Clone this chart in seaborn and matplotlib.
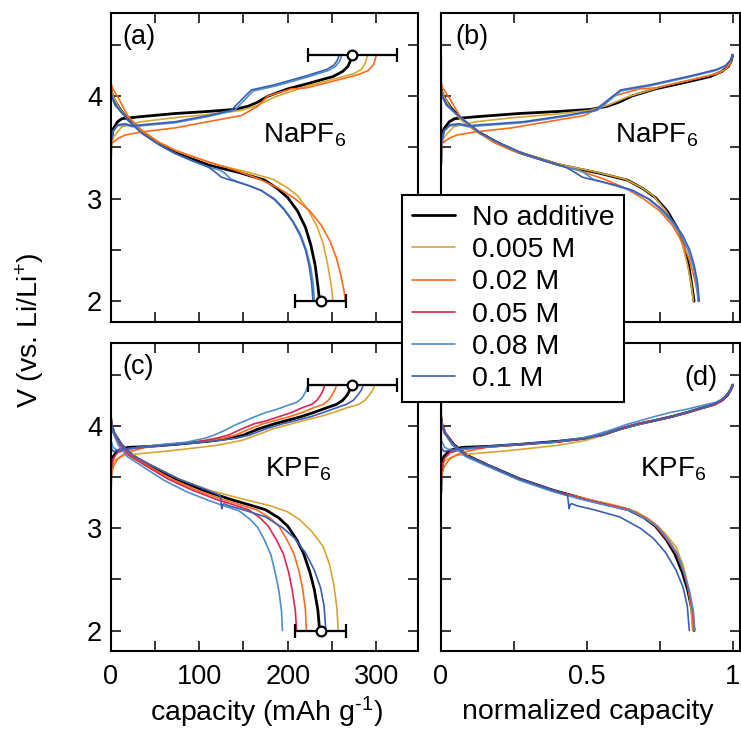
import matplotlib
matplotlib.use("Agg")
import matplotlib.pyplot as plt
from matplotlib.lines import Line2D
from matplotlib.ticker import MultipleLocator
import pandas as pd
import seaborn as sns

sns.set_theme(style="ticks")
plt.rcParams["font.family"] = ["Liberation Sans", "DejaVu Sans"]
plt.rcParams["mathtext.fontset"] = "custom"
plt.rcParams["mathtext.rm"] = "Liberation Sans"
plt.rcParams["mathtext.it"] = "Liberation Sans:italic"
plt.rcParams["mathtext.bf"] = "Liberation Sans:bold"
for key in ("text.color", "axes.labelcolor", "xtick.color", "ytick.color", "axes.edgecolor"):
    plt.rcParams[key] = "black"

# ---------------------------------------------------------------- series
labels = ["No additive", "0.005 M", "0.02 M", "0.05 M", "0.08 M", "0.1 M"]
colors = ["#000000", "#d8a531", "#ff6a1c", "#de2450", "#4f8dcd", "#3b5fb6"]
widths = [2.0, 1.2, 1.2, 1.2, 1.2, 1.2]

# ---------------------------------------------------------------- NaPF6 (mAh/g, V)
na_none_chg_q = [0, 0, 0.5, 3, 8, 13, 35, 73, 110, 140, 155, 166, 178, 200, 222, 251, 262, 268, 270.5, 272]
na_none_chg_v = [4.38, 3.33, 3.55, 3.68, 3.75, 3.78, 3.80, 3.83, 3.85, 3.87, 3.90, 3.94, 4.00, 4.07, 4.12, 4.19, 4.24, 4.29, 4.34, 4.40]
na_none_dis_q = [0, 1, 4, 10, 20, 35, 54, 73, 110, 147, 174, 188, 200, 211, 220, 226, 231, 234, 236]
na_none_dis_v = [4.10, 4.04, 3.97, 3.88, 3.77, 3.65, 3.54, 3.45, 3.33, 3.25, 3.18, 3.10, 3.01, 2.88, 2.72, 2.55, 2.35, 2.15, 2.00]

na_005_chg_q = [0, 1, 3.4, 12.7, 35, 73, 110, 147.5, 166, 185, 222, 258, 275, 283, 287.5, 290]
na_005_chg_v = [3.45, 3.52, 3.60, 3.70, 3.75, 3.79, 3.82, 3.86, 3.91, 3.99, 4.10, 4.18, 4.22, 4.26, 4.32, 4.40]
na_005_dis_q = [0, 1, 4, 10, 20, 35, 55, 76, 115, 154, 183, 199, 211, 223, 233, 240, 245, 249, 251]
na_005_dis_v = [4.10, 4.05, 3.98, 3.88, 3.77, 3.66, 3.55, 3.46, 3.34, 3.26, 3.19, 3.11, 3.03, 2.89, 2.73, 2.56, 2.36, 2.16, 2.00]

na_02_chg_q = [0, 1.5, 9, 16.5, 35, 73, 110, 147.5, 166, 177.5, 204, 221, 258, 280, 291, 297, 300]
na_02_chg_v = [3.50, 3.54, 3.59, 3.62, 3.65, 3.69, 3.75, 3.81, 3.90, 4.00, 4.07, 4.08, 4.16, 4.21, 4.25, 4.31, 4.40]
na_02_dis_q = [0, 2, 9, 20, 35, 54, 73, 110, 140, 168, 190, 208, 225, 238, 248, 255, 260, 263.5, 265]
na_02_dis_v = [4.15, 4.08, 3.98, 3.80, 3.67, 3.55, 3.47, 3.36, 3.28, 3.19, 3.10, 3.00, 2.88, 2.74, 2.58, 2.42, 2.25, 2.10, 2.00]

na_08_chg_q = [0, 1, 3, 8, 16.5, 25, 35, 73, 110, 140, 150, 161, 187, 224, 246, 254, 258.5, 261]
na_08_chg_v = [3.48, 3.58, 3.66, 3.71, 3.72, 3.70, 3.71, 3.74, 3.80, 3.86, 3.95, 4.05, 4.10, 4.19, 4.25, 4.29, 4.34, 4.40]
na_08_dis_q = [0, 1, 5, 16.5, 35, 54, 73, 92, 110, 118, 123, 127, 131, 136, 142, 155, 170, 185, 196, 206, 214, 221, 226, 229, 230]
na_08_dis_v = [4.08, 4.00, 3.91, 3.80, 3.64, 3.53, 3.44, 3.37, 3.31, 3.29, 3.28, 3.26, 3.23, 3.19, 3.17, 3.13, 3.08, 3.00, 2.90, 2.78, 2.66, 2.50, 2.33, 2.15, 2.00]

na_1_chg_q = [0, 1, 3, 8, 16.5, 25, 35, 73, 110, 136, 147.5, 159, 185, 222, 244, 252, 256, 258]
na_1_chg_v = [3.45, 3.57, 3.66, 3.72, 3.73, 3.71, 3.72, 3.75, 3.81, 3.86, 3.96, 4.06, 4.11, 4.20, 4.26, 4.30, 4.35, 4.40]
na_1_dis_q = [0, 1, 5, 16.5, 35, 54, 73, 92, 110, 118, 125, 132, 140, 155, 170, 185, 196, 206, 214, 220, 224, 227, 228.5]
na_1_dis_v = [4.10, 4.02, 3.92, 3.80, 3.64, 3.53, 3.44, 3.37, 3.31, 3.26, 3.21, 3.19, 3.17, 3.13, 3.08, 2.99, 2.89, 2.77, 2.64, 2.50, 2.35, 2.18, 2.00]

# ---------------------------------------------------------------- KPF6 (mAh/g, V)
k_none_chg_q = [0, 0, 0.5, 3, 8, 20, 45, 74, 110, 136, 150, 167, 185, 198, 215, 229, 245, 255, 262, 267, 270, 272]
k_none_chg_v = [4.38, 3.33, 3.55, 3.70, 3.76, 3.79, 3.80, 3.82, 3.85, 3.88, 3.91, 3.97, 4.02, 4.05, 4.09, 4.13, 4.18, 4.21, 4.25, 4.30, 4.35, 4.40]
k_none_dis_q = [0, 1, 4, 12, 25, 43, 74, 105, 136, 160, 175, 190, 200, 210, 218, 225, 230, 234, 236]
k_none_dis_v = [4.10, 4.02, 3.93, 3.82, 3.71, 3.62, 3.48, 3.37, 3.28, 3.22, 3.18, 3.10, 3.02, 2.89, 2.75, 2.57, 2.40, 2.20, 2.00]

k_005_chg_q = [0, 1, 4, 15, 35, 60, 81, 120, 149, 165, 183, 200, 217, 236, 251, 268, 280, 287, 292, 296, 298]
k_005_chg_v = [3.55, 3.60, 3.66, 3.71, 3.73, 3.75, 3.77, 3.81, 3.86, 3.91, 3.97, 4.01, 4.05, 4.09, 4.13, 4.18, 4.21, 4.25, 4.30, 4.35, 4.40]
k_005_dis_q = [0, 1, 4, 12, 25, 45, 78, 112, 147, 180, 200, 214, 228, 240, 247, 252, 255.5, 257]
k_005_dis_v = [4.10, 4.02, 3.93, 3.82, 3.71, 3.62, 3.48, 3.37, 3.29, 3.22, 3.16, 3.08, 2.96, 2.82, 2.65, 2.45, 2.22, 2.00]

k_02_chg_q = [0, 1, 3, 8, 18, 40, 70, 100, 128, 141, 157, 172, 185, 202, 216, 230, 240, 246, 250, 253, 255.4]
k_02_chg_v = [3.45, 3.52, 3.60, 3.68, 3.74, 3.79, 3.82, 3.84, 3.88, 3.91, 3.97, 4.02, 4.05, 4.09, 4.13, 4.18, 4.21, 4.25, 4.30, 4.35, 4.40]
k_02_dis_q = [0, 1, 4, 11, 23, 40, 69, 98, 127, 150, 165, 180, 190, 199, 207, 213, 217, 220, 221]
k_02_dis_v = [4.12, 4.03, 3.93, 3.82, 3.71, 3.62, 3.48, 3.37, 3.28, 3.22, 3.18, 3.10, 3.02, 2.89, 2.75, 2.57, 2.40, 2.20, 2.00]

k_05_chg_q = [0, 1, 3, 8, 18, 36, 66, 95, 120, 133, 148, 162, 176, 190, 204, 217, 227, 233, 237, 240, 241.6]
k_05_chg_v = [3.52, 3.60, 3.68, 3.74, 3.77, 3.79, 3.82, 3.84, 3.88, 3.91, 3.97, 4.02, 4.05, 4.09, 4.13, 4.18, 4.21, 4.25, 4.30, 4.35, 4.40]
k_05_dis_q = [0, 1, 4, 10, 21, 38, 65, 93, 120, 142, 156, 169, 178, 187, 195, 201, 205, 208.5, 210]
k_05_dis_v = [4.10, 4.02, 3.93, 3.82, 3.71, 3.62, 3.48, 3.37, 3.28, 3.22, 3.18, 3.10, 3.02, 2.89, 2.75, 2.57, 2.40, 2.20, 2.00]

k_08_chg_q = [0, 0.5, 3, 8, 16, 30, 60, 85, 107, 117, 130, 141, 152, 163, 175, 187, 200, 210, 216, 220, 223]
k_08_chg_v = [3.92, 3.86, 3.79, 3.76, 3.77, 3.79, 3.82, 3.84, 3.88, 3.91, 3.96, 4.01, 4.05, 4.09, 4.13, 4.16, 4.20, 4.23, 4.27, 4.33, 4.40]
k_08_dis_q = [0, 1, 4, 9, 19, 35, 60, 85, 111, 131, 145, 157, 166, 174, 181, 186, 190, 193, 194]
k_08_dis_v = [4.08, 4.00, 3.91, 3.81, 3.70, 3.61, 3.47, 3.36, 3.27, 3.21, 3.17, 3.09, 3.01, 2.88, 2.74, 2.56, 2.39, 2.19, 2.00]

k_1_chg_q = [0, 0.5, 3, 8, 20, 45, 77, 115, 142, 157, 175, 194, 208, 226, 240, 256, 266, 274, 279, 283, 285.4]
k_1_chg_v = [3.84, 3.79, 3.75, 3.76, 3.78, 3.80, 3.82, 3.85, 3.88, 3.91, 3.97, 4.02, 4.05, 4.09, 4.13, 4.18, 4.21, 4.25, 4.30, 4.35, 4.40]
k_1_dis_q = [0, 1, 4, 12, 25, 45, 77, 110, 124, 125.5, 126.5, 128, 133, 150, 175, 195, 208, 220, 230, 237, 241, 243]
k_1_dis_v = [4.10, 4.02, 3.93, 3.82, 3.71, 3.62, 3.48, 3.37, 3.32, 3.19, 3.23, 3.24, 3.22, 3.18, 3.11, 3.00, 2.90, 2.76, 2.59, 2.42, 2.24, 2.00]

# mean end-of-charge / end-of-discharge capacity with spread (mAh/g)
charge_mean, charge_spread, charge_voltage = 273, 50.5, 4.40
discharge_mean, discharge_spread, discharge_voltage = 237, 29, 2.00

curves = [
    ("Na", "No additive", na_none_chg_q, na_none_chg_v, na_none_dis_q, na_none_dis_v),
    ("Na", "0.005 M", na_005_chg_q, na_005_chg_v, na_005_dis_q, na_005_dis_v),
    ("Na", "0.02 M", na_02_chg_q, na_02_chg_v, na_02_dis_q, na_02_dis_v),
    ("Na", "0.08 M", na_08_chg_q, na_08_chg_v, na_08_dis_q, na_08_dis_v),
    ("Na", "0.1 M", na_1_chg_q, na_1_chg_v, na_1_dis_q, na_1_dis_v),
    ("K", "No additive", k_none_chg_q, k_none_chg_v, k_none_dis_q, k_none_dis_v),
    ("K", "0.005 M", k_005_chg_q, k_005_chg_v, k_005_dis_q, k_005_dis_v),
    ("K", "0.02 M", k_02_chg_q, k_02_chg_v, k_02_dis_q, k_02_dis_v),
    ("K", "0.05 M", k_05_chg_q, k_05_chg_v, k_05_dis_q, k_05_dis_v),
    ("K", "0.08 M", k_08_chg_q, k_08_chg_v, k_08_dis_q, k_08_dis_v),
    ("K", "0.1 M", k_1_chg_q, k_1_chg_v, k_1_dis_q, k_1_dis_v),
]

frames = []
for salt, label, cq, cv, dq, dv in curves:
    full_charge = max(cq)
    for step, q, v in (("charge", cq, cv), ("discharge", dq, dv)):
        f = pd.DataFrame({"capacity": q, "voltage": v})
        f["normalized"] = f["capacity"] / full_charge
        f["salt"], f["label"], f["step"] = salt, label, step
        frames.append(f)
data = pd.concat(frames, ignore_index=True)

# ---------------------------------------------------------------- figure
W, H = 741, 732
fig = plt.figure(figsize=(W / 100, H / 100), dpi=100)


def box(x0, y0, x1, y1):
    return [x0 / W, 1 - y1 / H, (x1 - x0) / W, (y1 - y0) / H]


ax_a = fig.add_axes(box(110.5, 13, 418, 321.7))
ax_b = fig.add_axes(box(440.7, 13, 740, 321.7))
ax_c = fig.add_axes(box(110.5, 343, 418, 651))
ax_d = fig.add_axes(box(440.7, 343, 740, 651))

panels = [
    (ax_a, "Na", "capacity"),
    (ax_b, "Na", "normalized"),
    (ax_c, "K", "capacity"),
    (ax_d, "K", "normalized"),
]

for ax, salt, xcol in panels:
    sub = data[data["salt"] == salt]
    for label, color, lw in zip(labels, colors, widths):
        part = sub[sub["label"] == label]
        if part.empty:
            continue
        sns.lineplot(data=part, x=xcol, y="voltage", units="step", estimator=None,
                     sort=False, color=color, linewidth=lw, ax=ax, legend=False)

    ax.set_ylim(1.8, 4.81)
    ax.yaxis.set_major_locator(MultipleLocator(1))
    ax.yaxis.set_minor_locator(MultipleLocator(0.5))
    if xcol == "capacity":
        ax.set_xlim(0, 347)
        ax.xaxis.set_major_locator(MultipleLocator(100))
        ax.xaxis.set_minor_locator(MultipleLocator(50))
        for xm, xe, ym in ((charge_mean, charge_spread, charge_voltage),
                           (discharge_mean, discharge_spread, discharge_voltage)):
            ax.errorbar([xm], [ym], xerr=[xe], fmt="o", ms=7, mfc="white", mec="black",
                        mew=1.6, ecolor="black", elinewidth=1.6, capsize=5, capthick=1.6,
                        zorder=6, clip_on=False)
    else:
        ax.set_xlim(0, 1.025)
        ax.xaxis.set_major_locator(MultipleLocator(0.5))
        ax.xaxis.set_minor_locator(MultipleLocator(0.25))
        ax.xaxis.set_major_formatter(plt.FuncFormatter(lambda v, p: f"{v:g}"))

    ax.set_xlabel("")
    ax.set_ylabel("")
    ax.tick_params(which="both", direction="in", top=True, right=True, length=7,
                   width=1.1, color="black", labelcolor="black", labelsize=19.5, pad=6)
    for sp in ax.spines.values():
        sp.set_linewidth(1.5)
        sp.set_color("black")
    ax.set_facecolor("white")

for ax in (ax_a, ax_b):
    ax.tick_params(labelbottom=False)
for ax in (ax_b, ax_d):
    ax.tick_params(labelleft=False)
for ax in (ax_c, ax_d):
    ax.tick_params(axis="x", pad=9)

# panel tags and salt names
ax_a.text(0.04, 0.965, "(a)", transform=ax_a.transAxes, ha="left", va="top", fontsize=19.5)
ax_b.text(0.048, 0.965, "(b)", transform=ax_b.transAxes, ha="left", va="top", fontsize=19.5)
ax_c.text(0.04, 0.965, "(c)", transform=ax_c.transAxes, ha="left", va="top", fontsize=19.5)
ax_d.text(0.925, 0.93, "(d)", transform=ax_d.transAxes, ha="right", va="top", fontsize=19.5)
ax_a.text(0.496, 0.579, r"NaPF$_6$", transform=ax_a.transAxes, ha="left", va="baseline", fontsize=20)
ax_b.text(0.583, 0.579, r"NaPF$_6$", transform=ax_b.transAxes, ha="left", va="baseline", fontsize=20)
ax_c.text(0.502, 0.566, r"KPF$_6$", transform=ax_c.transAxes, ha="left", va="baseline", fontsize=20)
ax_d.text(0.667, 0.566, r"KPF$_6$", transform=ax_d.transAxes, ha="left", va="baseline", fontsize=20)

# axis titles
fig.text(266 / W, 1 - 712 / H, r"capacity (mAh g$^{\text{-1}}$)", ha="center", va="center", fontsize=20.5)
fig.text(588 / W, 1 - 712 / H, "normalized capacity", ha="center", va="center", fontsize=20.5)
fig.text(30 / W, 1 - 330 / H, r"V (vs. Li/Li$^{+}$)", ha="center", va="center",
         rotation=90, fontsize=20.5)

# legend
handles = [Line2D([], [], color=c, lw=w) for c, w in zip(colors, widths)]
leg = fig.legend(handles, labels, loc="upper left", bbox_to_anchor=(402 / W, 1 - 195 / H),
                 frameon=True, fancybox=False, edgecolor="black", facecolor="white",
                 framealpha=1, fontsize=20.5, handlelength=1.5, handletextpad=0.6,
                 labelspacing=0.22, borderpad=0.35, borderaxespad=0)
leg.get_frame().set_linewidth(1.5)

fig.savefig("out.png", dpi=100, facecolor="white")
